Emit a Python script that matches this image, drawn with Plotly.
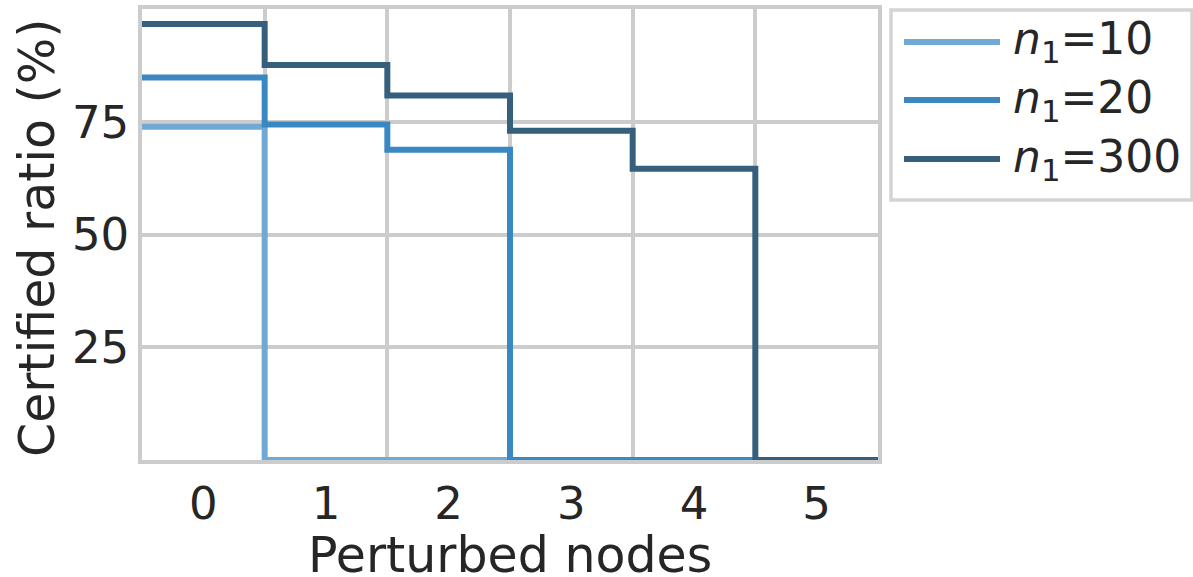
import plotly.graph_objects as go

# ---- data ----
nodes = [0, 1, 2, 3, 4, 5]
series_names = ["10", "20", "300"]
ratio_n10 = [73.9, 0, 0, 0, 0, 0]
ratio_n20 = [84.8, 74.4, 68.8, 0, 0, 0]
ratio_n300 = [96.7, 87.6, 80.8, 73.0, 64.6, 0]
y_ticks = [25, 50, 75]
x_title = "Perturbed nodes"
y_title = "Certified ratio (%)"

colors = ["#6fa9d4", "#3a88c2", "#365f7e"]
FONT = "DejaVu Sans"
TXT = "#262626"
GRID = "#cccccc"

W, H = 1193, 577
ML, MR, MT, MB = 142, 315, 9, 117
PW, PH = W - ML - MR, H - MT - MB


def xp(px):
    return (px - ML) / PW


def yp(py):
    return (H - MB - py) / PH


fig = go.Figure()
all_series = [ratio_n10, ratio_n20, ratio_n300]
edges = [n - 0.5 for n in nodes] + [nodes[-1] + 0.5]
for name, vals, col in zip(series_names, all_series, colors):
    fig.add_trace(go.Scatter(
        x=edges, y=list(vals) + [vals[-1]],
        mode="lines", line=dict(shape="hv", width=6, color=col),
        name=name, showlegend=False, cliponaxis=False,
    ))

fig.update_layout(
    width=W, height=H,
    margin=dict(l=ML, r=MR, t=MT, b=MB, pad=0, autoexpand=False),
    paper_bgcolor="white", plot_bgcolor="white",
    font=dict(family=FONT, color=TXT, size=45),
    xaxis=dict(
        range=[-0.5, 5.5], tickvals=nodes, ticktext=[str(n) for n in nodes],
        showgrid=False, zeroline=False, ticks="", ticklen=0, automargin=False,
        showline=True, mirror=True, linecolor=GRID, linewidth=3.5,
        layer="below traces",
        minor=dict(tickvals=[n + 0.5 for n in nodes[:-1]], showgrid=True,
                   gridcolor=GRID, gridwidth=3.5, ticks=""),
        tickfont=dict(size=45, color=TXT),
        ticklabelstandoff=1,
    ),
    yaxis=dict(
        range=[0, 100], tickvals=y_ticks, ticktext=[str(v) for v in y_ticks],
        showgrid=True, gridcolor=GRID, gridwidth=3.5, zeroline=False, ticks="", ticklen=0,
        showline=True, mirror=True, linecolor=GRID, linewidth=3.5, automargin=False,
        layer="below traces",
        tickfont=dict(size=45, color=TXT),
        ticklabelstandoff=0,
    ),
)

# axis titles
fig.add_annotation(xref="paper", yref="paper", x=xp(510), y=yp(555),
                   xanchor="center", yanchor="middle", showarrow=False,
                   height=42, valign="middle",
                   text=x_title, font=dict(size=49, color=TXT, family=FONT))
fig.add_annotation(xref="paper", yref="paper", x=xp(37), y=yp(238),
                   xanchor="center", yanchor="middle", showarrow=False, textangle=-90,
                   text=y_title, font=dict(size=49, color=TXT, family=FONT))

# custom legend (matplotlib-style)
fig.add_shape(type="rect", xref="paper", yref="paper",
              x0=xp(891), x1=xp(1192), y0=yp(200), y1=yp(10),
              line=dict(color="#d4d4d4", width=3.5), fillcolor="white", layer="below")
row_y = [42, 100, 159]
for name, col, ry in zip(series_names, colors, row_y):
    fig.add_shape(type="line", xref="paper", yref="paper",
                  x0=xp(904), x1=xp(1000), y0=yp(ry), y1=yp(ry),
                  line=dict(color=col, width=6))
    fig.add_annotation(xref="paper", yref="paper", x=xp(1011), y=yp(ry),
                       xanchor="left", yanchor="middle", showarrow=False,
                       text=f"<i>n</i><sub>1</sub>={name}",
                       font=dict(size=44, color=TXT, family=FONT))

fig.write_html("out.html", config={"displayModeBar": False},
               post_script="document.body.style.margin='0';")
